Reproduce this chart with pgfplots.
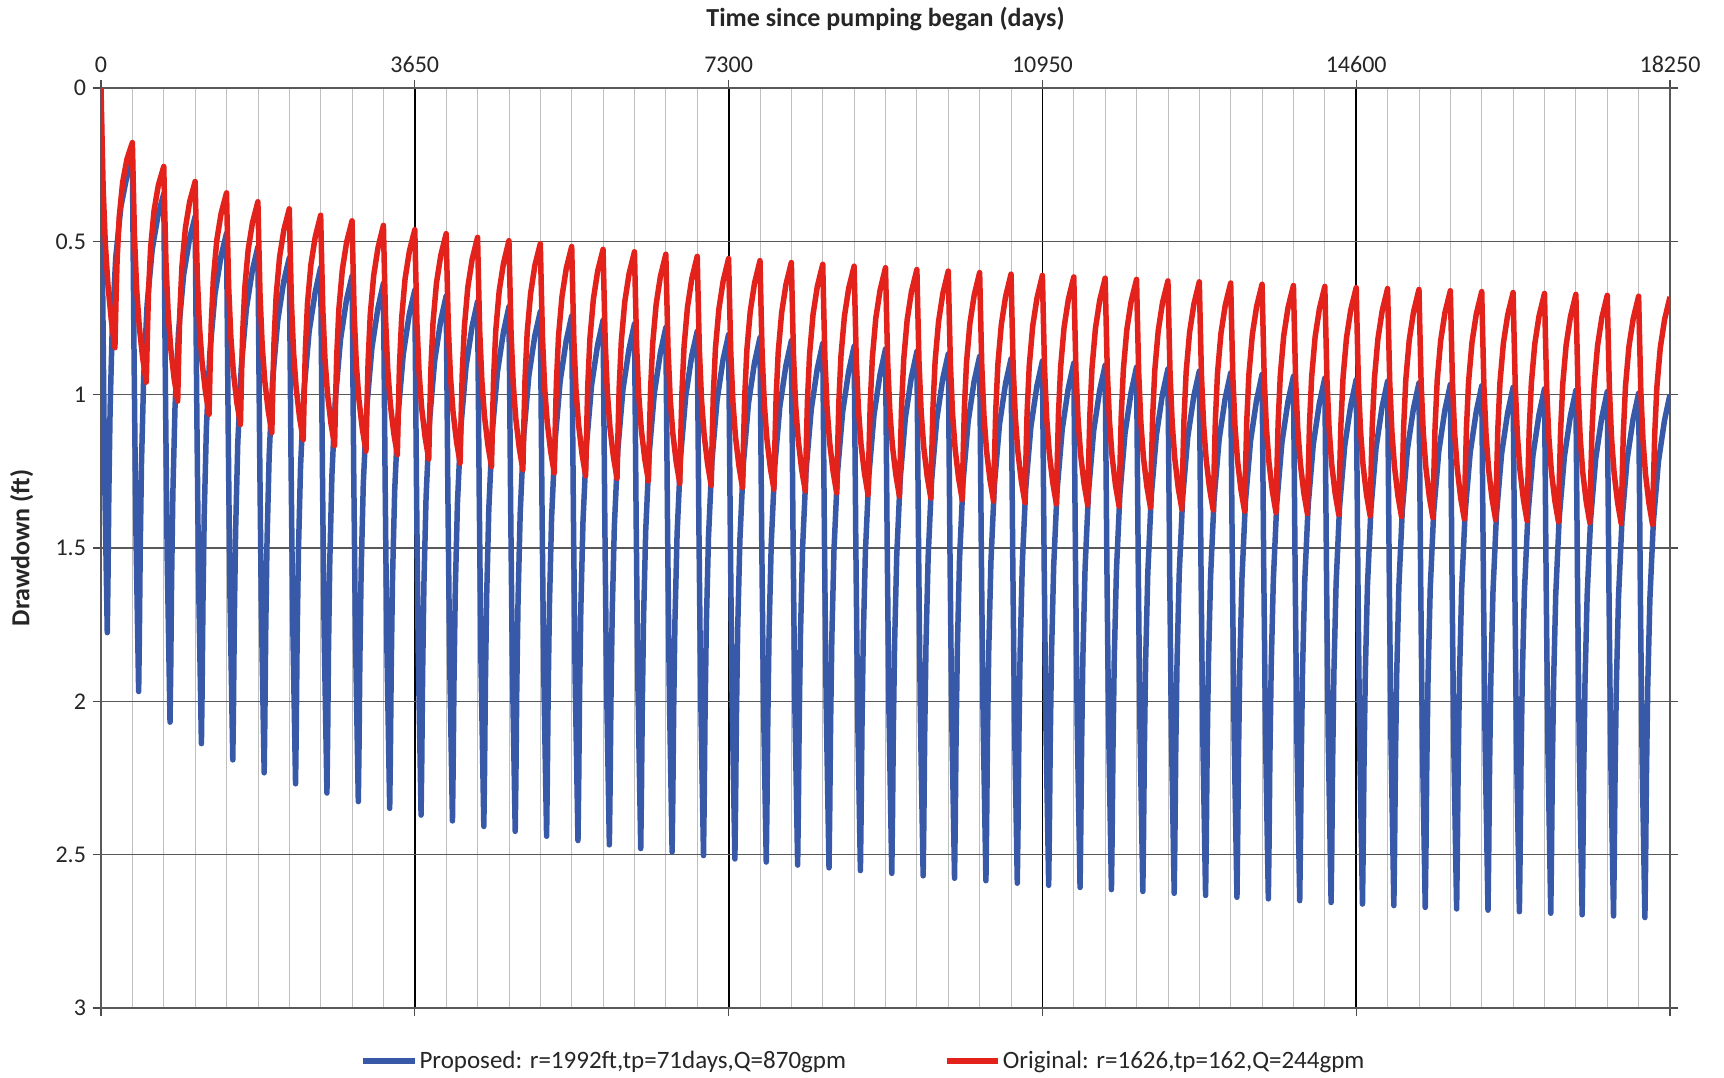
\documentclass[border=0pt]{standalone}
\usepackage{fontspec}
\setmainfont{Carlito}
\usepackage{pgfplots}
\pgfplotsset{compat=1.18}
\definecolor{propblue}{RGB}{56,88,168}
\definecolor{origred}{RGB}{228,34,28}
\definecolor{txt}{RGB}{38,38,38}
\begin{document}
\begin{tikzpicture}
\begin{axis}[
  name=ax, scale only axis, width=784.5pt, height=460pt,
  xmin=0, xmax=18250, ymin=0, ymax=3, y dir=reverse,
  scaled x ticks=false, scaled y ticks=false,
  xtick={0,3650,7300,10950,14600,18250},
  xticklabels={0,3650,7300,10950,14600,18250},
  minor x tick num=9,
  ytick={0,0.5,1,1.5,2,2.5,3},
  yticklabels={0,0.5,1,1.5,2,2.5,3},
  xticklabel pos=top,
  tick align=outside, major tick length=4pt, minor tick length=0pt,
  grid=both,
  major x grid style={black, line width=0.9pt},
  minor x grid style={gray!50, line width=0.4pt},
  major y grid style={black!65, line width=0.6pt},
  axis line style={black!65, line width=0.6pt},
  tick style={black!70, line width=0.6pt},
  ticklabel style={font=\fontsize{12}{14}\selectfont, text=txt},
  /pgf/number format/assume math mode=true,
  xlabel={Time since pumping began (days)},
  ylabel={Drawdown (ft)},
  every axis x label/.style={at={(axis description cs:0.5,1)}, yshift=34.5pt, anchor=center, font=\bfseries\fontsize{13}{15}\selectfont, text=txt},
  every axis y label/.style={at={(axis description cs:0,0.5)}, xshift=-39.7pt, rotate=90, anchor=center, font=\bfseries\fontsize{13}{15}\selectfont, text=txt},
  legend style={at={(axis description cs:0.5,0)}, anchor=center, xshift=-11pt, yshift=-26.5pt, draw=none, fill=none, legend columns=2, font=\fontsize{12.5}{15}\selectfont, text=txt, column sep=0pt, /tikz/every even column/.append style={column sep=48pt}, inner sep=0pt, nodes={inner xsep=1pt}},
  legend cell align=left,
  legend image code/.code={\draw[#1, line cap=butt] (0pt,0pt) -- (25.7pt,0pt);},
  every axis plot/.append style={line width=2.75pt, line join=round, mark=none},
]
\addplot[propblue] coordinates {
(0,0) (20,0.669) (40,1.218) (73,1.776) (81,1.609) (91,1.327) (106,1.047) (131,0.778) (171,0.554) (231,0.388) (301,0.288)
(365,0.233) (385,0.889) (405,1.427) (438,1.968) (446,1.797) (456,1.511) (471,1.225) (496,0.946) (536,0.708) (596,0.526) (666,0.411)
(730,0.345) (750,0.997) (770,1.532) (803,2.068) (811,1.897) (821,1.609) (836,1.321) (861,1.040) (901,0.799) (961,0.610) (1031,0.490)
(1095,0.419) (1115,1.070) (1135,1.604) (1168,2.138) (1176,1.967) (1186,1.679) (1201,1.389) (1226,1.107) (1266,0.864) (1326,0.672) (1396,0.548)
(1460,0.474) (1480,1.125) (1500,1.657) (1533,2.191) (1541,2.019) (1551,1.731) (1566,1.441) (1591,1.158) (1631,0.914) (1691,0.720) (1761,0.594)
(1825,0.518) (1845,1.168) (1865,1.700) (1898,2.233) (1906,2.061) (1916,1.772) (1931,1.482) (1956,1.199) (1996,0.953) (2056,0.758) (2126,0.630)
(2190,0.554) (2210,1.204) (2230,1.736) (2263,2.269) (2271,2.097) (2281,1.808) (2296,1.518) (2321,1.235) (2361,0.989) (2421,0.794) (2491,0.666)
(2555,0.585) (2575,1.235) (2595,1.766) (2628,2.299) (2636,2.126) (2646,1.837) (2661,1.547) (2686,1.263) (2726,1.016) (2786,0.820) (2856,0.690)
(2920,0.613) (2940,1.263) (2960,1.794) (2993,2.327) (3001,2.154) (3011,1.865) (3026,1.575) (3051,1.291) (3091,1.044) (3151,0.848) (3221,0.718)
(3285,0.637) (3305,1.286) (3325,1.818) (3358,2.349) (3366,2.177) (3376,1.888) (3391,1.597) (3416,1.313) (3456,1.065) (3516,0.868) (3586,0.737)
(3650,0.659) (3670,1.308) (3690,1.840) (3723,2.371) (3731,2.199) (3741,1.910) (3756,1.619) (3781,1.335) (3821,1.087) (3881,0.890) (3951,0.759)
(4015,0.678) (4035,1.327) (4055,1.859) (4088,2.390) (4096,2.218) (4106,1.929) (4121,1.638) (4146,1.354) (4186,1.106) (4246,0.909) (4316,0.778)
(4380,0.696) (4400,1.345) (4420,1.877) (4453,2.408) (4461,2.236) (4471,1.947) (4486,1.656) (4511,1.372) (4551,1.124) (4611,0.927) (4681,0.796)
(4745,0.713) (4765,1.362) (4785,1.893) (4818,2.424) (4826,2.251) (4836,1.962) (4851,1.671) (4876,1.386) (4916,1.138) (4976,0.940) (5046,0.808)
(5110,0.729) (5130,1.378) (5150,1.909) (5183,2.440) (5191,2.267) (5201,1.978) (5216,1.687) (5241,1.402) (5281,1.154) (5341,0.956) (5411,0.824)
(5475,0.743) (5495,1.392) (5515,1.923) (5548,2.454) (5556,2.281) (5566,1.992) (5581,1.701) (5606,1.416) (5646,1.168) (5706,0.970) (5776,0.838)
(5840,0.757) (5860,1.406) (5880,1.937) (5913,2.468) (5921,2.295) (5931,2.006) (5946,1.715) (5971,1.430) (6011,1.182) (6071,0.984) (6141,0.852)
(6205,0.769) (6225,1.418) (6245,1.949) (6278,2.480) (6286,2.307) (6296,2.018) (6311,1.727) (6336,1.442) (6376,1.194) (6436,0.996) (6506,0.864)
(6570,0.781) (6590,1.430) (6610,1.961) (6643,2.491) (6651,2.319) (6661,2.029) (6676,1.738) (6701,1.453) (6741,1.205) (6801,1.006) (6871,0.873)
(6935,0.793) (6955,1.442) (6975,1.973) (7008,2.503) (7016,2.331) (7026,2.041) (7041,1.750) (7066,1.465) (7106,1.217) (7166,1.018) (7236,0.885)
(7300,0.804) (7320,1.453) (7340,1.984) (7373,2.514) (7381,2.342) (7391,2.052) (7406,1.761) (7431,1.476) (7471,1.228) (7531,1.029) (7601,0.896)
(7665,0.814) (7685,1.463) (7705,1.994) (7738,2.524) (7746,2.352) (7756,2.062) (7771,1.771) (7796,1.486) (7836,1.238) (7896,1.039) (7966,0.906)
(8030,0.824) (8050,1.473) (8070,2.004) (8103,2.534) (8111,2.362) (8121,2.072) (8136,1.781) (8161,1.496) (8201,1.248) (8261,1.049) (8331,0.916)
(8395,0.833) (8415,1.482) (8435,2.013) (8468,2.543) (8476,2.371) (8486,2.081) (8501,1.790) (8526,1.505) (8566,1.257) (8626,1.058) (8696,0.925)
(8760,0.842) (8780,1.491) (8800,2.022) (8833,2.552) (8841,2.380) (8851,2.090) (8866,1.799) (8891,1.514) (8931,1.266) (8991,1.067) (9061,0.934)
(9125,0.851) (9145,1.500) (9165,2.031) (9198,2.561) (9206,2.389) (9216,2.099) (9231,1.808) (9256,1.523) (9296,1.275) (9356,1.076) (9426,0.943)
(9490,0.859) (9510,1.508) (9530,2.038) (9563,2.569) (9571,2.396) (9581,2.106) (9596,1.815) (9621,1.530) (9661,1.281) (9721,1.081) (9791,0.948)
(9855,0.867) (9875,1.516) (9895,2.046) (9928,2.577) (9936,2.404) (9946,2.114) (9961,1.823) (9986,1.538) (10026,1.289) (10086,1.089) (10156,0.956)
(10220,0.875) (10240,1.524) (10260,2.054) (10293,2.585) (10301,2.412) (10311,2.122) (10326,1.831) (10351,1.546) (10391,1.297) (10451,1.097) (10521,0.964)
(10585,0.883) (10605,1.532) (10625,2.062) (10658,2.593) (10666,2.420) (10676,2.130) (10691,1.839) (10716,1.554) (10756,1.305) (10816,1.105) (10886,0.972)
(10950,0.890) (10970,1.539) (10990,2.069) (11023,2.600) (11031,2.427) (11041,2.137) (11056,1.846) (11081,1.561) (11121,1.312) (11181,1.112) (11251,0.979)
(11315,0.897) (11335,1.546) (11355,2.076) (11388,2.607) (11396,2.434) (11406,2.144) (11421,1.853) (11446,1.568) (11486,1.319) (11546,1.119) (11616,0.986)
(11680,0.904) (11700,1.553) (11720,2.083) (11753,2.614) (11761,2.441) (11771,2.151) (11786,1.860) (11811,1.575) (11851,1.326) (11911,1.126) (11981,0.993)
(12045,0.910) (12065,1.559) (12085,2.089) (12118,2.620) (12126,2.447) (12136,2.157) (12151,1.866) (12176,1.581) (12216,1.332) (12276,1.132) (12346,0.999)
(12410,0.916) (12430,1.565) (12450,2.095) (12483,2.626) (12491,2.453) (12501,2.163) (12516,1.872) (12541,1.587) (12581,1.338) (12641,1.138) (12711,1.005)
(12775,0.923) (12795,1.572) (12815,2.102) (12848,2.633) (12856,2.460) (12866,2.170) (12881,1.879) (12906,1.594) (12946,1.345) (13006,1.145) (13076,1.012)
(13140,0.929) (13160,1.578) (13180,2.108) (13213,2.639) (13221,2.466) (13231,2.176) (13246,1.885) (13271,1.600) (13311,1.351) (13371,1.151) (13441,1.018)
(13505,0.934) (13525,1.583) (13545,2.113) (13578,2.644) (13586,2.471) (13596,2.181) (13611,1.890) (13636,1.605) (13676,1.356) (13736,1.156) (13806,1.023)
(13870,0.940) (13890,1.589) (13910,2.119) (13943,2.650) (13951,2.477) (13961,2.187) (13976,1.896) (14001,1.611) (14041,1.362) (14101,1.162) (14171,1.029)
(14235,0.946) (14255,1.595) (14275,2.125) (14308,2.656) (14316,2.483) (14326,2.193) (14341,1.902) (14366,1.617) (14406,1.368) (14466,1.168) (14536,1.035)
(14600,0.951) (14620,1.600) (14640,2.130) (14673,2.661) (14681,2.488) (14691,2.198) (14706,1.907) (14731,1.622) (14771,1.373) (14831,1.173) (14901,1.040)
(14965,0.956) (14985,1.605) (15005,2.135) (15038,2.666) (15046,2.493) (15056,2.203) (15071,1.912) (15096,1.627) (15136,1.378) (15196,1.178) (15266,1.045)
(15330,0.962) (15350,1.611) (15370,2.141) (15403,2.672) (15411,2.499) (15421,2.209) (15436,1.918) (15461,1.633) (15501,1.384) (15561,1.184) (15631,1.051)
(15695,0.967) (15715,1.616) (15735,2.146) (15768,2.677) (15776,2.504) (15786,2.214) (15801,1.923) (15826,1.638) (15866,1.389) (15926,1.189) (15996,1.056)
(16060,0.971) (16080,1.620) (16100,2.150) (16133,2.681) (16141,2.508) (16151,2.218) (16166,1.927) (16191,1.642) (16231,1.393) (16291,1.193) (16361,1.060)
(16425,0.976) (16445,1.625) (16465,2.155) (16498,2.686) (16506,2.513) (16516,2.223) (16531,1.932) (16556,1.647) (16596,1.398) (16656,1.198) (16726,1.065)
(16790,0.981) (16810,1.630) (16830,2.160) (16863,2.691) (16871,2.518) (16881,2.228) (16896,1.937) (16921,1.652) (16961,1.403) (17021,1.203) (17091,1.070)
(17155,0.986) (17175,1.635) (17195,2.165) (17228,2.696) (17236,2.523) (17246,2.233) (17261,1.942) (17286,1.657) (17326,1.408) (17386,1.208) (17456,1.075)
(17520,0.990) (17540,1.639) (17560,2.169) (17593,2.700) (17601,2.527) (17611,2.237) (17626,1.946) (17651,1.661) (17691,1.412) (17751,1.212) (17821,1.079)
(17885,0.995) (17905,1.644) (17925,2.174) (17958,2.705) (17966,2.532) (17976,2.242) (17991,1.951) (18016,1.666) (18056,1.417) (18116,1.217) (18186,1.084)
(18250,0.999)
};
\addlegendentry{Proposed: r=1992ft,tp=71days,Q=870gpm}
\addplot[origred] coordinates {
(0,0) (10,0.135) (25,0.326) (50,0.506) (80,0.639) (120,0.757) (162,0.847) (174,0.700) (187,0.564) (212,0.421) (252,0.307) (302,0.232)
(365,0.178) (375,0.307) (390,0.489) (415,0.657) (445,0.777) (485,0.881) (527,0.959) (539,0.810) (552,0.670) (577,0.522) (617,0.400) (667,0.317)
(730,0.256) (740,0.384) (755,0.564) (780,0.728) (810,0.846) (850,0.946) (892,1.021) (904,0.870) (917,0.730) (942,0.580) (982,0.456) (1032,0.370)
(1095,0.305) (1105,0.432) (1120,0.612) (1145,0.776) (1175,0.892) (1215,0.990) (1257,1.064) (1269,0.912) (1282,0.772) (1307,0.622) (1347,0.496) (1397,0.409)
(1460,0.342) (1470,0.469) (1485,0.649) (1510,0.811) (1540,0.927) (1580,1.025) (1622,1.097) (1634,0.946) (1647,0.805) (1672,0.654) (1712,0.527) (1762,0.439)
(1825,0.371) (1835,0.498) (1850,0.677) (1875,0.840) (1905,0.955) (1945,1.052) (1987,1.124) (1999,0.972) (2012,0.831) (2037,0.679) (2077,0.552) (2127,0.463)
(2190,0.394) (2200,0.521) (2215,0.700) (2240,0.863) (2270,0.978) (2310,1.075) (2352,1.147) (2364,0.995) (2377,0.854) (2402,0.702) (2442,0.575) (2492,0.486)
(2555,0.415) (2565,0.542) (2580,0.721) (2605,0.883) (2635,0.998) (2675,1.094) (2717,1.166) (2729,1.013) (2742,0.873) (2767,0.721) (2807,0.593) (2857,0.503)
(2920,0.433) (2930,0.560) (2945,0.739) (2970,0.901) (3000,1.016) (3040,1.112) (3082,1.184) (3094,1.031) (3107,0.891) (3132,0.739) (3172,0.611) (3222,0.521)
(3285,0.448) (3295,0.575) (3310,0.754) (3335,0.915) (3365,1.030) (3405,1.125) (3447,1.196) (3459,1.044) (3472,0.903) (3497,0.751) (3537,0.622) (3587,0.532)
(3650,0.462) (3660,0.589) (3675,0.768) (3700,0.929) (3730,1.044) (3770,1.139) (3812,1.210) (3824,1.058) (3837,0.917) (3862,0.765) (3902,0.636) (3952,0.546)
(4015,0.475) (4025,0.602) (4040,0.781) (4065,0.942) (4095,1.057) (4135,1.152) (4177,1.223) (4189,1.071) (4202,0.930) (4227,0.778) (4267,0.649) (4317,0.559)
(4380,0.487) (4390,0.614) (4405,0.793) (4430,0.954) (4460,1.069) (4500,1.164) (4542,1.235) (4554,1.083) (4567,0.942) (4592,0.790) (4632,0.661) (4682,0.571)
(4745,0.498) (4755,0.624) (4770,0.803) (4795,0.965) (4825,1.079) (4865,1.174) (4907,1.245) (4919,1.092) (4932,0.951) (4957,0.798) (4997,0.670) (5047,0.578)
(5110,0.508) (5120,0.634) (5135,0.813) (5160,0.975) (5190,1.089) (5230,1.184) (5272,1.255) (5284,1.102) (5297,0.961) (5322,0.808) (5362,0.680) (5412,0.588)
(5475,0.517) (5485,0.643) (5500,0.822) (5525,0.984) (5555,1.098) (5595,1.193) (5637,1.264) (5649,1.111) (5662,0.970) (5687,0.817) (5727,0.689) (5777,0.597)
(5840,0.526) (5850,0.652) (5865,0.831) (5890,0.993) (5920,1.107) (5960,1.202) (6002,1.273) (6014,1.120) (6027,0.979) (6052,0.826) (6092,0.698) (6142,0.606)
(6205,0.534) (6215,0.660) (6230,0.839) (6255,1.001) (6285,1.115) (6325,1.210) (6367,1.281) (6379,1.128) (6392,0.987) (6417,0.834) (6457,0.706) (6507,0.614)
(6570,0.542) (6580,0.668) (6595,0.847) (6620,1.009) (6650,1.123) (6690,1.218) (6732,1.289) (6744,1.136) (6757,0.995) (6782,0.842) (6822,0.714) (6872,0.622)
(6935,0.549) (6945,0.675) (6960,0.854) (6985,1.016) (7015,1.130) (7055,1.225) (7097,1.296) (7109,1.143) (7122,1.002) (7147,0.849) (7187,0.721) (7237,0.629)
(7300,0.556) (7310,0.682) (7325,0.861) (7350,1.023) (7380,1.137) (7420,1.232) (7462,1.303) (7474,1.150) (7487,1.009) (7512,0.856) (7552,0.728) (7602,0.636)
(7665,0.563) (7675,0.689) (7690,0.868) (7715,1.029) (7745,1.143) (7785,1.238) (7827,1.308) (7839,1.156) (7852,1.014) (7877,0.862) (7917,0.733) (7967,0.641)
(8030,0.569) (8040,0.695) (8055,0.874) (8080,1.035) (8110,1.149) (8150,1.244) (8192,1.314) (8204,1.162) (8217,1.020) (8242,0.868) (8282,0.739) (8332,0.647)
(8395,0.575) (8405,0.701) (8420,0.880) (8445,1.041) (8475,1.155) (8515,1.250) (8557,1.320) (8569,1.168) (8582,1.026) (8607,0.874) (8647,0.745) (8697,0.653)
(8760,0.581) (8770,0.707) (8785,0.886) (8810,1.047) (8840,1.161) (8880,1.256) (8922,1.326) (8934,1.174) (8947,1.032) (8972,0.880) (9012,0.751) (9062,0.659)
(9125,0.586) (9135,0.712) (9150,0.891) (9175,1.052) (9205,1.166) (9245,1.261) (9287,1.331) (9299,1.179) (9312,1.037) (9337,0.885) (9377,0.756) (9427,0.664)
(9490,0.592) (9500,0.718) (9515,0.897) (9540,1.058) (9570,1.172) (9610,1.267) (9652,1.337) (9664,1.185) (9677,1.043) (9702,0.891) (9742,0.762) (9792,0.670)
(9855,0.597) (9865,0.723) (9880,0.902) (9905,1.063) (9935,1.177) (9975,1.272) (10017,1.342) (10029,1.190) (10042,1.048) (10067,0.896) (10107,0.767) (10157,0.675)
(10220,0.602) (10230,0.728) (10245,0.907) (10270,1.068) (10300,1.182) (10340,1.277) (10382,1.347) (10394,1.195) (10407,1.053) (10432,0.901) (10472,0.772) (10522,0.680)
(10585,0.607) (10595,0.733) (10610,0.912) (10635,1.073) (10665,1.187) (10705,1.282) (10747,1.352) (10759,1.200) (10772,1.058) (10797,0.906) (10837,0.777) (10887,0.685)
(10950,0.611) (10960,0.737) (10975,0.916) (11000,1.077) (11030,1.191) (11070,1.286) (11112,1.356) (11124,1.204) (11137,1.062) (11162,0.910) (11202,0.781) (11252,0.689)
(11315,0.616) (11325,0.742) (11340,0.921) (11365,1.082) (11395,1.196) (11435,1.291) (11477,1.360) (11489,1.208) (11502,1.066) (11527,0.913) (11567,0.784) (11617,0.692)
(11680,0.620) (11690,0.746) (11705,0.925) (11730,1.086) (11760,1.200) (11800,1.295) (11842,1.364) (11854,1.212) (11867,1.070) (11892,0.917) (11932,0.788) (11982,0.696)
(12045,0.624) (12055,0.750) (12070,0.929) (12095,1.090) (12125,1.204) (12165,1.299) (12207,1.368) (12219,1.216) (12232,1.074) (12257,0.921) (12297,0.792) (12347,0.700)
(12410,0.629) (12420,0.755) (12435,0.934) (12460,1.095) (12490,1.209) (12530,1.304) (12572,1.373) (12584,1.221) (12597,1.079) (12622,0.926) (12662,0.797) (12712,0.705)
(12775,0.632) (12785,0.758) (12800,0.937) (12825,1.098) (12855,1.212) (12895,1.307) (12937,1.376) (12949,1.224) (12962,1.082) (12987,0.929) (13027,0.800) (13077,0.708)
(13140,0.636) (13150,0.762) (13165,0.941) (13190,1.102) (13220,1.216) (13260,1.311) (13302,1.380) (13314,1.228) (13327,1.086) (13352,0.933) (13392,0.804) (13442,0.712)
(13505,0.640) (13515,0.766) (13530,0.945) (13555,1.106) (13585,1.220) (13625,1.315) (13667,1.384) (13679,1.232) (13692,1.090) (13717,0.937) (13757,0.808) (13807,0.716)
(13870,0.644) (13880,0.770) (13895,0.949) (13920,1.110) (13950,1.224) (13990,1.319) (14032,1.388) (14044,1.236) (14057,1.094) (14082,0.941) (14122,0.812) (14172,0.720)
(14235,0.647) (14245,0.773) (14260,0.952) (14285,1.113) (14315,1.227) (14355,1.322) (14397,1.391) (14409,1.239) (14422,1.097) (14447,0.944) (14487,0.815) (14537,0.723)
(14600,0.651) (14610,0.777) (14625,0.956) (14650,1.117) (14680,1.231) (14720,1.326) (14762,1.395) (14774,1.243) (14787,1.101) (14812,0.948) (14852,0.819) (14902,0.727)
(14965,0.654) (14975,0.780) (14990,0.959) (15015,1.120) (15045,1.234) (15085,1.329) (15127,1.398) (15139,1.246) (15152,1.104) (15177,0.951) (15217,0.822) (15267,0.730)
(15330,0.657) (15340,0.783) (15355,0.962) (15380,1.123) (15410,1.237) (15450,1.332) (15492,1.401) (15504,1.249) (15517,1.107) (15542,0.954) (15582,0.825) (15632,0.733)
(15695,0.661) (15705,0.787) (15720,0.966) (15745,1.127) (15775,1.241) (15815,1.336) (15857,1.405) (15869,1.253) (15882,1.111) (15907,0.958) (15947,0.829) (15997,0.737)
(16060,0.664) (16070,0.790) (16085,0.969) (16110,1.130) (16140,1.244) (16180,1.339) (16222,1.408) (16234,1.256) (16247,1.114) (16272,0.961) (16312,0.832) (16362,0.740)
(16425,0.667) (16435,0.793) (16450,0.972) (16475,1.133) (16505,1.247) (16545,1.342) (16587,1.411) (16599,1.259) (16612,1.117) (16637,0.964) (16677,0.835) (16727,0.743)
(16790,0.670) (16800,0.796) (16815,0.975) (16840,1.136) (16870,1.250) (16910,1.345) (16952,1.414) (16964,1.262) (16977,1.120) (17002,0.967) (17042,0.838) (17092,0.746)
(17155,0.673) (17165,0.799) (17180,0.978) (17205,1.139) (17235,1.253) (17275,1.348) (17317,1.417) (17329,1.265) (17342,1.123) (17367,0.970) (17407,0.841) (17457,0.749)
(17520,0.676) (17530,0.802) (17545,0.981) (17570,1.142) (17600,1.256) (17640,1.351) (17682,1.420) (17694,1.268) (17707,1.126) (17732,0.973) (17772,0.844) (17822,0.752)
(17885,0.679) (17895,0.805) (17910,0.984) (17935,1.145) (17965,1.259) (18005,1.354) (18047,1.423) (18059,1.271) (18072,1.129) (18097,0.976) (18137,0.847) (18187,0.755)
(18250,0.681)
};
\addlegendentry{Original: r=1626,tp=162,Q=244gpm}
\end{axis}
\pgfresetboundingbox
\useasboundingbox ([xshift=-50.5pt,yshift=-35pt]ax.south west) rectangle ([xshift=27pt,yshift=44pt]ax.north east);
\end{tikzpicture}
\end{document}
